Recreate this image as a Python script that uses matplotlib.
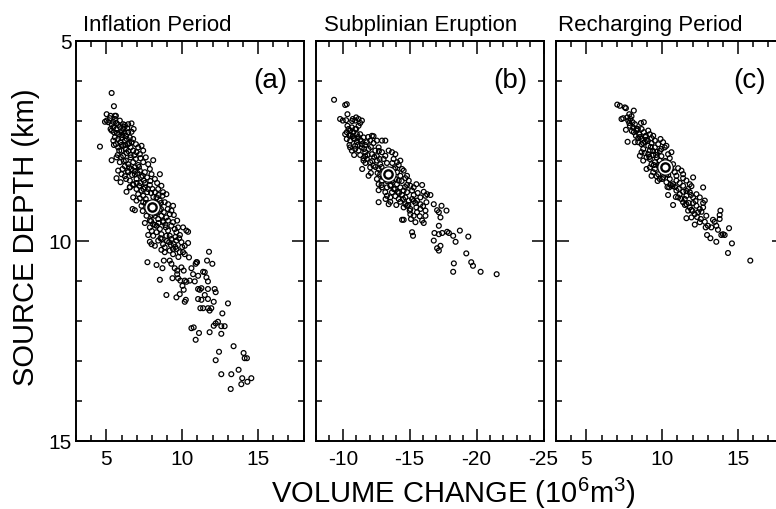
import matplotlib.pyplot as plt
import numpy as np
from matplotlib.ticker import MultipleLocator

plt.rcParams['font.family'] = ['Liberation Sans', 'DejaVu Sans']
plt.rcParams['mathtext.fontset'] = 'custom'
plt.rcParams['mathtext.rm'] = 'Liberation Sans'
plt.rcParams['axes.unicode_minus'] = False

titles = ['Inflation Period', 'Subplinian Eruption', 'Recharging Period']
panel_tags = ['(a)', '(b)', '(c)']

# (volume change, source depth) for each accepted model
points_a = [
    (5.35, 6.30), (5.50, 6.63), (5.02, 6.83), (5.28, 6.87), (5.56, 6.87), (4.58, 7.64),
    (4.91, 7.02), (5.02, 6.99), (5.13, 7.03), (5.24, 6.93), (5.35, 7.08), (5.46, 7.02),
    (5.56, 6.95), (5.67, 7.05), (5.78, 7.10), (5.89, 6.99), (6.11, 7.08), (6.22, 7.10),
    (6.44, 7.08), (6.66, 7.06), (5.63, 6.87), (5.46, 7.16), (5.28, 7.20),
    (5.35, 7.24), (5.50, 7.28), (5.67, 7.20), (5.85, 7.33), (6.00, 7.28), (6.11, 7.20),
    (6.29, 7.37), (6.44, 7.28), (6.55, 7.41), (5.56, 7.41), (5.78, 7.45), (6.00, 7.43),
    (6.22, 7.49), (6.77, 7.45), (5.46, 7.49), (6.38, 7.18), (6.66, 7.27),
    (5.63, 7.58), (5.78, 7.66), (5.94, 7.53), (6.11, 7.62), (6.29, 7.70), (6.44, 7.58),
    (6.60, 7.66), (6.77, 7.74), (6.95, 7.58), (7.10, 7.66), (7.32, 7.62), (7.43, 7.74),
    (6.00, 7.74), (6.33, 7.80), (6.66, 7.53), (6.99, 7.78), (5.85, 7.74),
    (5.35, 7.98), (5.67, 7.91), (5.89, 8.03), (6.11, 7.87), (6.29, 7.99), (6.44, 8.08),
    (6.60, 7.91), (6.77, 8.03), (6.95, 7.95), (7.10, 8.10), (7.25, 7.93), (7.43, 8.03),
    (7.60, 7.91), (7.76, 8.08), (8.09, 7.98), (6.51, 8.16), (6.22, 8.13), (6.88, 8.16),
    (7.21, 7.83), (6.07, 8.20),
    (5.67, 8.43), (5.78, 8.24), (6.00, 8.33), (6.22, 8.38), (6.44, 8.28), (6.66, 8.20),
    (6.88, 8.33), (6.99, 8.45), (7.21, 8.24), (7.39, 8.37), (7.54, 8.28), (7.69, 8.41),
    (7.87, 8.20), (7.98, 8.33), (8.20, 8.45), (8.53, 8.33), (5.94, 8.53), (6.55, 8.49),
    (6.77, 8.58), (7.47, 8.49),
    (6.33, 8.77), (6.55, 8.66), (6.77, 8.60), (6.99, 8.70), (7.17, 8.62), (7.32, 8.74),
    (7.54, 8.66), (7.69, 8.78), (7.87, 8.60), (8.04, 8.70), (8.20, 8.78), (8.42, 8.70),
    (8.63, 8.62), (8.74, 8.78), (8.96, 8.83), (7.43, 8.87), (7.10, 8.83),
    (6.77, 8.91), (6.99, 8.99), (7.21, 8.93), (7.43, 9.03), (7.60, 8.95), (8.31, 8.91),
    (8.53, 8.99), (8.70, 8.87), (8.85, 9.03), (9.07, 9.08), (9.40, 9.12), (6.73, 9.20),
    (6.88, 9.23), (7.32, 9.12), (8.48, 9.12),
    (7.54, 9.55), (8.53, 9.24), (8.63, 9.37), (8.79, 9.28), (8.96, 9.41), (9.18, 9.33),
    (9.29, 9.24), (8.42, 9.45), (8.20, 9.37), (9.07, 9.49), (9.40, 9.53), (9.67, 9.49),
    (7.65, 9.37), (7.87, 9.49),
    (7.87, 9.66), (8.09, 9.58), (8.31, 9.62), (8.53, 9.70), (8.74, 9.53), (8.92, 9.66),
    (9.07, 9.74), (9.29, 9.62), (9.51, 9.70), (9.73, 9.66), (10.06, 9.66), (10.28, 9.74),
    (10.39, 9.77), (8.31, 9.78), (8.63, 9.83), (8.09, 9.87), (7.76, 9.85), (9.18, 9.87),
    (9.62, 9.78),
    (7.87, 10.02), (7.98, 10.08), (8.20, 10.12), (8.42, 9.99), (8.57, 9.93), (8.74, 10.08),
    (8.96, 9.87), (9.14, 10.03), (9.29, 9.95), (9.45, 10.08), (9.62, 9.99), (9.80, 9.93),
    (9.95, 10.03), (10.17, 10.12), (10.39, 10.05), (9.40, 10.20), (8.85, 10.16),
    (8.63, 10.22), (8.85, 10.28), (9.18, 10.24), (9.40, 10.33), (9.62, 10.20), (9.84, 10.28),
    (10.06, 10.28), (10.17, 10.33), (10.45, 10.41), (10.94, 10.53), (11.77, 10.27),
    (11.64, 10.49), (11.99, 10.57), (9.18, 10.49), (8.79, 10.49), (7.71, 10.53), (8.31, 10.60),
    (8.70, 10.68), (8.53, 10.97), (9.29, 10.57), (9.51, 10.68), (9.67, 10.74), (9.67, 10.83),
    (9.95, 10.66), (10.10, 10.74), (9.73, 10.93), (9.36, 10.93), (9.88, 10.99), (10.61, 10.68),
    (10.89, 10.57), (10.98, 10.53), (10.72, 10.83), (11.05, 10.87), (11.38, 10.77),
    (11.49, 10.78), (11.60, 10.91), (11.70, 11.01), (10.17, 10.99), (10.28, 11.02),
    (10.50, 10.99), (10.83, 11.01),
    (8.96, 11.35), (9.62, 11.41), (9.84, 11.33), (10.02, 11.12), (10.10, 11.22), (10.24, 11.47),
    (10.17, 11.52), (11.05, 11.20), (11.16, 11.22), (11.27, 11.18), (11.05, 11.45),
    (11.27, 11.47), (11.49, 11.35), (11.70, 11.45), (11.70, 11.20), (12.14, 11.20),
    (12.21, 11.28), (12.08, 11.52), (11.20, 11.68), (11.38, 11.68), (11.70, 11.68),
    (11.81, 11.74), (11.92, 11.68), (12.65, 11.81), (13.02, 11.56),
    (10.61, 12.18), (10.76, 12.16), (11.11, 12.30), (10.89, 12.47), (11.81, 12.28),
    (12.08, 12.12), (12.21, 12.06), (12.36, 12.02), (12.58, 12.13), (12.80, 12.13),
    (12.58, 12.32), (13.39, 12.63), (12.43, 12.77), (12.21, 12.98), (14.05, 12.80),
    (14.12, 12.93), (14.27, 12.93), (12.58, 13.33), (13.24, 13.33), (13.72, 13.22),
    (13.96, 13.43), (14.56, 13.43), (13.20, 13.70), (13.90, 13.58), (14.30, 13.52),
    # dense core
    (5.90, 7.15), (6.05, 7.35), (6.20, 7.30), (6.35, 7.45), (5.70, 7.30), (6.50, 7.55),
    (6.25, 7.60), (6.45, 7.75), (6.85, 7.85), (6.60, 7.85), (6.90, 8.25), (7.05, 8.30),
    (7.15, 8.15), (7.30, 8.40), (7.00, 8.55), (7.25, 8.55), (7.55, 8.55), (7.45, 8.70),
    (7.75, 8.70), (7.95, 8.80), (7.60, 9.05), (7.85, 9.05), (8.10, 8.90), (8.30, 9.05),
    (8.60, 9.20), (8.75, 9.50), (8.90, 9.60), (8.45, 9.55), (8.20, 9.60), (8.00, 9.75),
    (8.65, 9.95), (9.00, 10.00), (9.25, 10.10), (9.55, 10.15), (6.80, 7.20), (6.00, 7.60),
    (5.50, 7.60), (5.75, 7.85), (6.15, 8.00), (6.40, 8.25), (6.70, 8.35), (6.55, 8.65),
    (7.90, 8.50), (8.35, 8.55), (8.45, 8.85), (8.60, 9.05), (9.05, 9.20), (9.45, 9.35),
    (9.55, 9.90), (9.85, 9.85), (10.00, 10.15), (9.75, 10.40), (8.00, 9.35), (7.70, 9.20),
    (6.20, 7.15), (5.95, 7.90), (6.30, 8.45), (7.40, 9.25), (7.95, 9.50), (8.30, 9.30),
]

points_b = [
    (-9.35, 6.47), (-10.18, 6.60), (-10.30, 6.58), (-10.35, 6.83), (-9.80, 6.95), (-10.00, 6.99),
    (-10.25, 6.98), (-10.75, 6.95), (-10.93, 6.99), (-11.18, 6.95), (-11.43, 6.99), (-11.00, 6.91),
    (-10.18, 7.33), (-10.30, 7.28), (-10.43, 7.20), (-10.55, 7.24), (-10.68, 7.16), (-10.80, 7.28),
    (-10.93, 7.20), (-11.05, 7.33), (-11.30, 7.33), (-10.50, 7.37), (-10.75, 7.38), (-11.18, 7.12),
    (-10.35, 7.12),
    (-10.30, 7.45), (-10.55, 7.49), (-10.80, 7.43), (-11.05, 7.53), (-11.30, 7.47), (-11.55, 7.41),
    (-11.80, 7.53), (-12.05, 7.49), (-12.30, 7.38), (-12.55, 7.49), (-12.93, 7.49), (-13.18, 7.49),
    (-10.50, 7.60), (-10.93, 7.62), (-11.68, 7.60), (-12.18, 7.37), (-11.43, 7.58),
    (-10.55, 7.66), (-10.68, 7.74), (-10.93, 7.70), (-11.18, 7.74), (-11.43, 7.66), (-11.68, 7.78),
    (-11.93, 7.70), (-12.18, 7.83), (-12.43, 7.74), (-12.68, 7.66), (-12.93, 7.78), (-13.18, 7.87),
    (-13.43, 7.74), (-13.68, 7.78), (-13.93, 7.83), (-11.68, 7.88), (-12.55, 7.88), (-11.30, 7.85),
    (-11.55, 7.99), (-11.80, 7.95), (-12.05, 8.03), (-12.30, 8.12), (-12.55, 7.99), (-12.80, 8.08),
    (-13.05, 7.95), (-13.80, 7.95), (-14.05, 8.03), (-14.18, 8.10), (-14.30, 7.99), (-12.05, 8.16),
    (-11.93, 8.37), (-12.68, 8.20), (-13.93, 8.18), (-14.43, 8.20), (-11.55, 7.93),
    (-12.55, 8.45), (-12.80, 8.33), (-14.05, 8.28), (-14.30, 8.37), (-14.55, 8.24), (-14.68, 8.43),
    (-14.93, 8.49), (-13.93, 8.45), (-13.68, 8.49), (-12.93, 8.49), (-14.18, 8.49), (-14.80, 8.37),
    (-12.68, 8.58), (-12.93, 8.66), (-12.68, 8.73), (-13.30, 8.66), (-13.55, 8.62), (-13.80, 8.70),
    (-14.05, 8.58), (-14.30, 8.66), (-14.55, 8.74), (-14.80, 8.60), (-15.05, 8.62), (-15.30, 8.66),
    (-15.50, 8.58), (-15.93, 8.60), (-13.18, 8.78), (-13.68, 8.78), (-14.10, 8.77), (-14.80, 8.78),
    (-15.18, 8.74), (-16.05, 8.77), (-16.30, 8.83),
    (-13.30, 8.87), (-13.55, 8.91), (-13.93, 8.88), (-14.18, 8.95), (-14.43, 8.85), (-14.68, 8.91),
    (-14.93, 8.99), (-15.18, 8.95), (-15.55, 8.99), (-15.80, 8.91), (-16.18, 8.87), (-16.55, 8.85),
    (-13.55, 9.02), (-13.43, 9.08), (-14.30, 9.02), (-14.68, 9.08), (-15.43, 9.05), (-15.80, 9.08),
    (-16.25, 9.03), (-12.68, 9.03), (-15.30, 8.85),
    (-14.55, 9.16), (-14.80, 9.12), (-15.05, 9.20), (-15.50, 9.16), (-15.80, 9.20), (-16.00, 9.13),
    (-16.18, 9.24), (-16.80, 9.08), (-17.05, 9.23), (-17.18, 9.28), (-17.38, 9.12), (-17.75, 9.24),
    (-15.05, 9.33), (-15.30, 9.37), (-15.55, 9.28), (-15.75, 9.38), (-15.93, 9.49), (-16.05, 9.55),
    (-15.43, 9.53), (-14.43, 9.47), (-14.55, 9.47), (-16.18, 9.37), (-17.30, 9.41), (-15.00, 9.24),
    (-15.18, 9.78), (-15.25, 9.87), (-17.18, 9.62), (-16.85, 9.80), (-17.18, 9.83), (-17.43, 9.80),
    (-17.80, 9.77), (-17.93, 9.80), (-18.25, 9.87), (-16.80, 9.99), (-18.43, 10.02), (-18.75, 9.74),
    (-19.38, 9.89), (-17.05, 10.18), (-17.18, 10.24), (-17.30, 10.12), (-19.23, 10.31),
    (-18.30, 10.56), (-19.60, 10.53), (-19.73, 10.62), (-18.25, 10.77), (-20.30, 10.77),
    (-21.50, 10.83),
    # dense core
    (-10.60, 7.35), (-10.90, 7.45), (-11.15, 7.40), (-11.40, 7.50), (-11.10, 7.60), (-11.60, 7.70),
    (-11.85, 7.85), (-12.10, 7.65), (-12.35, 7.90), (-12.20, 8.00), (-12.45, 8.15), (-12.75, 7.95),
    (-12.90, 8.15), (-13.10, 8.25), (-12.60, 8.30), (-13.00, 8.40), (-13.30, 8.50), (-13.60, 8.60),
    (-13.90, 8.70), (-14.20, 8.80), (-14.50, 8.95), (-14.00, 9.10), (-14.90, 9.10), (-15.30, 9.00),
    (-13.55, 8.35), (-13.80, 8.20), (-12.30, 7.55), (-11.90, 7.40), (-12.70, 7.75), (-13.30, 8.05),
    (-13.70, 8.05), (-11.00, 7.20), (-10.70, 7.00), (-11.30, 7.05), (-12.10, 8.30), (-14.40, 8.50),
    (-14.65, 8.65), (-15.60, 8.80), (-15.10, 9.45), (-13.20, 8.95), (-12.90, 8.60), (-11.70, 8.05),
    (-10.85, 7.85), (-11.45, 8.20),
]

points_c = [
    (7.04, 6.59), (7.21, 6.62), (7.54, 6.66), (7.61, 6.68), (8.13, 6.74), (7.83, 6.83),
    (7.32, 6.95), (7.43, 6.93), (7.70, 6.91), (7.61, 7.22), (7.72, 7.52), (8.79, 7.03),
    (7.76, 6.99), (7.91, 6.95), (8.05, 7.03), (7.87, 7.12), (8.09, 7.16), (8.20, 7.08),
    (7.98, 6.88), (8.31, 7.20), (7.83, 7.05),
    (8.13, 7.28), (8.31, 7.24), (8.48, 7.33), (8.64, 7.20), (8.79, 7.28), (8.92, 7.37),
    (9.08, 7.24), (9.19, 7.33), (8.42, 7.43), (8.64, 7.45), (8.97, 7.47), (9.30, 7.43),
    (8.27, 7.37), (9.52, 7.49), (9.41, 7.37),
    (8.42, 7.53), (8.64, 7.58), (8.86, 7.52), (9.08, 7.62), (9.30, 7.55), (9.52, 7.66),
    (9.74, 7.58), (9.89, 7.45), (9.95, 7.70), (10.17, 7.66), (10.28, 7.62), (8.75, 7.70),
    (9.19, 7.74), (9.63, 7.77), (8.20, 7.53), (10.06, 7.53),
    (8.53, 7.87), (8.75, 7.99), (8.97, 7.91), (9.19, 7.95), (9.41, 7.85), (9.63, 7.91),
    (9.84, 7.99), (9.52, 8.03), (9.30, 8.08), (10.39, 7.83), (10.61, 7.78), (10.50, 7.93),
    (9.95, 7.88), (8.64, 7.78), (9.08, 7.83),
    (8.97, 8.20), (9.19, 8.16), (9.41, 8.28), (9.52, 8.20), (9.74, 8.33), (9.84, 8.12),
    (10.39, 8.12), (10.61, 8.20), (10.83, 8.28), (11.05, 8.18), (11.27, 8.24), (11.38, 8.33),
    (9.30, 8.37), (9.63, 8.38), (10.28, 8.33), (10.94, 8.37), (10.72, 8.08),
    (9.84, 8.45), (10.06, 8.41), (10.28, 8.53), (10.50, 8.45), (10.72, 8.58), (10.94, 8.49),
    (11.16, 8.55), (11.38, 8.43), (11.60, 8.49), (11.82, 8.58), (12.04, 8.41), (10.46, 8.66),
    (10.68, 8.63), (11.38, 8.62), (11.93, 8.63),
    (10.39, 8.85), (10.94, 8.74), (11.16, 8.83), (11.38, 8.77), (11.60, 8.87), (11.82, 8.78),
    (12.04, 8.91), (12.26, 8.83), (12.48, 8.91), (12.70, 8.66), (11.05, 8.91), (11.71, 8.70),
    (11.49, 8.95),
    (10.72, 9.10), (11.38, 9.03), (11.60, 9.08), (11.82, 9.16), (12.04, 9.05), (12.26, 9.12),
    (12.48, 9.20), (12.70, 9.05), (12.81, 8.99), (11.71, 9.24), (11.93, 9.22), (12.15, 9.33),
    (12.37, 9.28), (12.59, 9.27), (12.91, 9.37), (11.60, 9.43), (11.93, 9.41), (12.70, 9.16),
    (12.15, 9.59), (12.48, 9.53), (12.81, 9.52), (13.35, 9.47), (13.46, 9.52), (13.57, 9.62),
    (13.79, 9.45), (13.84, 9.24), (13.79, 9.35), (12.87, 9.66), (13.02, 9.62), (13.24, 9.66),
    (13.68, 9.72), (13.90, 9.85), (14.12, 9.85), (14.01, 9.83), (14.41, 9.68), (12.96, 9.85),
    (13.18, 9.93), (13.57, 10.02), (14.60, 10.06), (14.34, 10.30), (15.81, 10.49),
    # dense core
    (8.40, 7.20), (8.55, 7.40), (8.75, 7.55), (8.90, 7.40), (9.05, 7.50), (9.25, 7.65),
    (9.40, 7.75), (9.60, 7.85), (9.15, 7.90), (9.45, 8.10), (9.75, 8.10), (9.95, 8.20),
    (10.00, 8.45), (10.40, 8.35), (10.55, 8.60), (10.85, 8.65), (11.10, 8.70), (11.25, 8.95),
    (11.50, 9.10), (11.75, 9.05), (12.00, 9.25), (12.30, 9.40), (12.55, 9.45), (10.20, 8.00),
    (9.85, 7.75), (8.00, 7.25), (8.60, 7.05), (9.70, 8.50), (10.90, 8.90), (12.20, 9.00),
    (11.90, 8.85), (8.85, 7.80), (10.35, 8.65), (11.60, 8.75),
]

# best-fit model in each period
best_vol = [8.0, -13.38, 10.17]
best_depth = [9.15, 8.33, 8.16]

xlims = [(3, 18), (-8, -25), (3, 18)]
xticks = [[5, 10, 15], [-10, -15, -20, -25], [5, 10, 15]]

fig = plt.figure(figsize=(7.76, 5.10), dpi=100)
lefts = [76 / 776, 316 / 776, 556 / 776]
title_x = [83 / 776, 324 / 776, 558 / 776]
bottom = 1 - 442 / 510
height = 400 / 510
width = 227.5 / 776

for i in range(3):
    ax = fig.add_axes([lefts[i], bottom, width, height])
    pts = np.array([points_a, points_b, points_c][i])
    ax.scatter(pts[:, 0], pts[:, 1], s=12, facecolors='none', edgecolors='black',
               linewidths=0.9, zorder=2)
    ax.plot(best_vol[i], best_depth[i], 'o', ms=11, mfc='white', mec='black',
            mew=0.8, zorder=3)
    ax.plot(best_vol[i], best_depth[i], 'o', ms=6, mfc='white', mec='black',
            mew=1.7, zorder=4)

    ax.set_xlim(*xlims[i])
    ax.set_ylim(15, 5)
    ax.set_xticks(xticks[i])
    ax.xaxis.set_minor_locator(MultipleLocator(1))
    ax.set_yticks([5, 10, 15])
    ax.yaxis.set_minor_locator(MultipleLocator(1))
    ax.tick_params(which='both', direction='in', top=True, right=True, width=1.1)
    ax.tick_params(which='major', length=9, labelsize=15)
    ax.tick_params(which='minor', length=4)
    ax.tick_params(axis='x', pad=6)
    ax.tick_params(axis='y', pad=3)
    if i > 0:
        ax.set_yticklabels([])
    for sp in ax.spines.values():
        sp.set_linewidth(1.4)

    ax.text(0.853, 0.902, panel_tags[i], transform=ax.transAxes, fontsize=20,
            ha='center', va='center')
    fig.text(title_x[i], 1 - 31 / 510, titles[i], fontsize=16, ha='left',
             va='baseline')

fig.text(26 / 776, 0.535, 'SOURCE DEPTH (km)', fontsize=21, rotation=90,
         ha='center', va='center')
fig.text(453 / 776, 1 - 503 / 510, r'VOLUME CHANGE (10$^6$m$^3$)', fontsize=21,
         ha='center', va='baseline')

fig.savefig('out.png', dpi=100)
